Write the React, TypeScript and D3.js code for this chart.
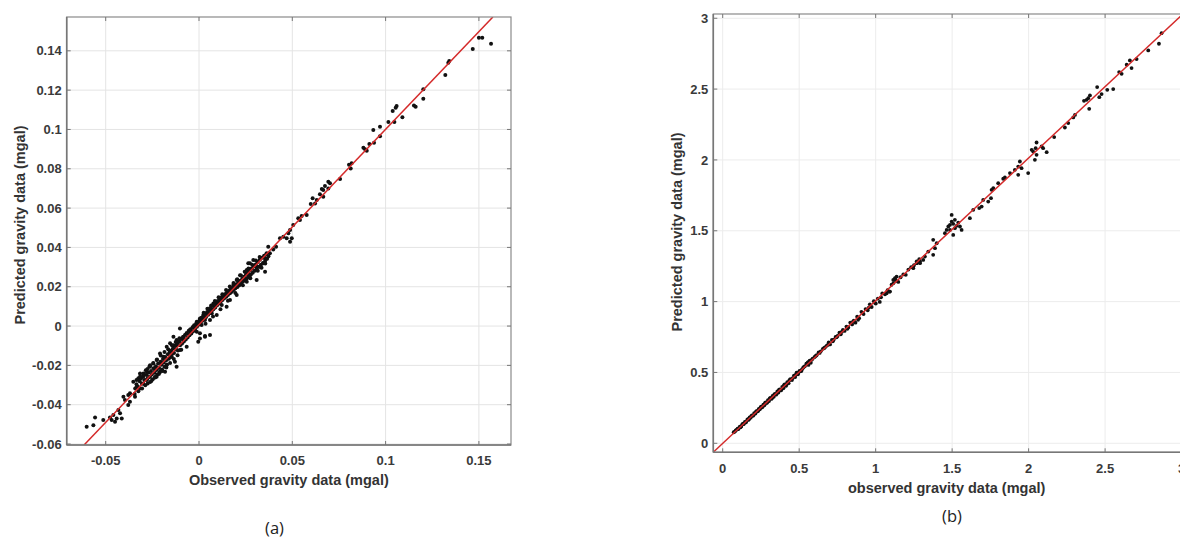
import React from "react";
import * as d3 from "d3";

// ---------- Panel (a) data ----------
const ticksAX = [-0.05, 0, 0.05, 0.1, 0.15];
const ticksAXLabels = ["-0.05", "0", "0.05", "0.1", "0.15"];
const ticksAY = [-0.06, -0.04, -0.02, 0, 0.02, 0.04, 0.06, 0.08, 0.1, 0.12, 0.14];
const ticksAYLabels = ["-0.06", "-0.04", "-0.02", "0", "0.02", "0.04", "0.06", "0.08", "0.1", "0.12", "0.14"];

// observed / predicted pairs
const pointsA: [number, number][] = [
  [0.1565, 0.1436], [0.1518, 0.1467], [0.150, 0.1467], [0.1467, 0.1409], [0.1341, 0.1348],
  [0.1336, 0.1339], [0.132, 0.1277], [0.1202, 0.1204], [0.1202, 0.1156], [0.1152, 0.1122],
  [0.1161, 0.1116], [0.109, 0.1062], [0.1059, 0.1119], [0.1054, 0.111], [0.1038, 0.1094],
  [0.1047, 0.1038], [0.1015, 0.1038], [0.097, 0.1014], [0.0934, 0.0997], [0.097, 0.0966],
  [0.0938, 0.0932], [0.0913, 0.0926], [0.0881, 0.0907], [0.089, 0.0899], [0.0899, 0.0892],
  [0.0818, 0.0828], [0.0804, 0.082], [0.0813, 0.0802], [0.0756, 0.0748], [0.0693, 0.0734],
  [0.0702, 0.0726], [0.0675, 0.0712], [0.0666, 0.0692], [0.0658, 0.0697], [0.0648, 0.0671],
  [0.0631, 0.0641], [0.0622, 0.0624], [0.0609, 0.065], [0.0599, 0.0621], [0.0666, 0.0658],
  [0.0693, 0.07], [0.0577, 0.0565], [0.055, 0.056], [0.0532, 0.0548], [0.0541, 0.0539],
  [0.0505, 0.0514], [0.0488, 0.0488], [0.0479, 0.0472], [0.0497, 0.0446], [0.047, 0.0446],
  [0.0452, 0.0454], [0.0434, 0.0446], [0.0413, 0.0403], [0.0398, 0.039], [0.0371, 0.0403],
  [0.0363, 0.037], [0.038, 0.037], [0.0354, 0.0344], [0.0345, 0.0319], [0.0264, 0.0319],
  [0.0291, 0.0336], [0.0309, 0.0302], [0.0282, 0.0293], [0.0488, 0.0429], [0.0354, 0.0276],
  [0.0273, 0.0319], [0.0256, 0.0285], [0.0327, 0.0302], [0.0309, 0.0234], [0.0273, 0.0259],
  [0.022, 0.0259], [0.0202, 0.0234], [0.0237, 0.0234], [0.0256, 0.0225], [0.0184, 0.0209],
  [0.0166, 0.0183], [0.0202, 0.0158], [0.0148, 0.0166], [0.013, 0.0149], [0.0113, 0.0141],
  [0.0166, 0.0132], [0.0095, 0.0124], [0.0077, 0.0115], [0.0122, 0.0107], [0.0148, 0.0098],
  [0.0059, 0.009], [0.0041, 0.0065], [0.0023, 0.0056], [0.0068, 0.0065], [0.0095, 0.0056],
  [0.0005, 0.0039], [0.0032, 0.0031], [-0.0012, 0.0022], [0.0014, 0.0005], [0.0059, 0.0031],
  [-0.0031, -0.0004], [-0.0048, -0.002], [-0.0012, -0.0029], [-0.0066, -0.0037], [-0.0102, -0.0012],
  [-0.0084, -0.0054], [0.0005, -0.0063], [0.0032, -0.0054], [0.0059, -0.0046], [-0.012, -0.0071],
  [-0.0155, -0.0088], [-0.0137, -0.0097], [-0.0173, -0.0105], [0.0032, -0.0051], [-0.0004, -0.008],
  [0.0005, -0.0037], [-0.0048, -0.0029], [-0.0084, -0.0071], [-0.0066, -0.0105], [-0.0102, -0.0122],
  [-0.0137, -0.0054], [-0.012, -0.0097], [-0.0146, -0.0156], [-0.012, -0.0207], [-0.0129, -0.0182],
  [-0.0191, -0.0156], [-0.0209, -0.0139], [-0.0227, -0.0173], [-0.02, -0.019], [-0.0173, -0.0198],
  [-0.0245, -0.019], [-0.0263, -0.0207], [-0.0236, -0.0224], [-0.0209, -0.0232], [-0.0182, -0.0232],
  [-0.028, -0.0232], [-0.0298, -0.0241], [-0.0263, -0.0258], [-0.0227, -0.0258], [-0.0316, -0.0241],
  [-0.0325, -0.0266], [-0.028, -0.0275], [-0.0298, -0.0292], [-0.0352, -0.0283], [-0.0334, -0.0309],
  [-0.0316, -0.0317], [-0.037, -0.0342], [-0.0405, -0.0359], [-0.0379, -0.0351], [-0.0397, -0.0376],
  [-0.0343, -0.0359], [-0.037, -0.0385], [-0.0379, -0.0402], [-0.0432, -0.0427], [-0.0459, -0.0453],
  [-0.0423, -0.0444], [-0.0441, -0.047], [-0.0468, -0.0478], [-0.0414, -0.047], [-0.0477, -0.0465],
  [-0.0513, -0.0478], [-0.0557, -0.0465], [-0.0566, -0.0504], [-0.0602, -0.0512], [-0.045, -0.0487],
  [-0.0342, -0.0318], [-0.0335, -0.0296], [-0.0327, -0.0309], [-0.0318, -0.0281], [-0.0311, -0.0267],
  [-0.0306, -0.0293], [-0.0299, -0.0258], [-0.0293, -0.0275], [-0.0288, -0.0301], [-0.0281, -0.0249],
  [-0.0277, -0.0268], [-0.0271, -0.0236], [-0.0266, -0.0259], [-0.0262, -0.0284], [-0.0257, -0.0229],
  [-0.0253, -0.0247], [-0.0248, -0.0271], [-0.0244, -0.0215], [-0.0239, -0.0238], [-0.0236, -0.0259],
  [-0.0231, -0.0204], [-0.0227, -0.0223], [-0.0224, -0.0247], [-0.0219, -0.0191], [-0.0214, -0.0213],
  [-0.0211, -0.0236], [-0.0206, -0.0182], [-0.0202, -0.0197], [-0.0198, -0.0221], [-0.0193, -0.0168],
  [-0.0189, -0.0186], [-0.0185, -0.0207], [-0.0181, -0.0157], [-0.0176, -0.0174], [-0.0172, -0.0196],
  [-0.0167, -0.0143], [-0.0162, -0.0166], [-0.0157, -0.0132], [-0.0153, -0.0158], [-0.0148, -0.0124],
  [-0.0144, -0.0141], [-0.0139, -0.0113], [-0.0134, -0.0137], [-0.0128, -0.0101], [-0.0123, -0.0119],
  [-0.0117, -0.0088], [-0.0113, -0.0124], [-0.0106, -0.0079], [-0.0101, -0.0097], [-0.0096, -0.0066],
  [-0.0091, -0.0089], [-0.0086, -0.0057], [-0.0081, -0.0078], [-0.0075, -0.0046], [-0.0071, -0.0069],
  [-0.0066, -0.0037], [-0.0061, -0.0058], [-0.0055, -0.0024], [-0.0051, -0.0047], [-0.0046, -0.0016],
  [-0.0041, -0.0038], [-0.0035, -0.0007], [-0.0031, -0.0026], [-0.0026, 0.0004], [-0.0021, -0.0015],
  [-0.0015, 0.0013], [-0.0011, -0.0004], [-0.0006, 0.0022], [-0.0002, 0.0007], [0.0004, 0.0031],
  [0.0009, 0.0016], [0.0013, 0.0042], [0.0018, 0.0027], [0.0024, 0.0051], [0.0029, 0.0036],
  [0.0034, 0.0062], [0.0038, 0.0046], [0.0044, 0.0071], [0.0049, 0.0057], [0.0053, 0.0083],
  [0.0058, 0.0066], [0.0063, 0.0091], [0.0068, 0.0077], [0.0072, 0.0103], [0.0077, 0.0086],
  [0.0083, 0.0112], [0.0087, 0.0094], [0.0092, 0.0121], [0.0097, 0.0106], [0.0101, 0.0128],
  [0.0106, 0.0115], [0.0112, 0.0137], [0.0116, 0.0124], [0.0121, 0.0146], [0.0126, 0.0133],
  [0.0131, 0.0155], [0.0135, 0.0141], [0.0141, 0.0163], [0.0146, 0.0149], [0.0151, 0.0171],
  [0.0155, 0.0158], [0.0161, 0.0178], [0.0166, 0.0167], [0.0171, 0.0187], [0.0176, 0.0174],
  [0.0181, 0.0196], [0.0186, 0.0183], [0.0191, 0.0204], [0.0195, 0.0192], [0.0201, 0.0213],
  [0.0206, 0.0199], [0.0211, 0.0222], [0.0216, 0.0208], [0.0221, 0.0231], [0.0226, 0.0217],
  [0.0232, 0.0241], [0.0236, 0.0226], [0.0242, 0.0251], [0.0247, 0.0234], [0.0252, 0.0262],
  [0.0257, 0.0243], [0.0262, 0.0271], [0.0267, 0.0253], [0.0273, 0.0283], [0.0278, 0.0262],
  [0.0283, 0.0292], [0.0288, 0.0271], [0.0294, 0.0304], [0.0299, 0.0281], [0.0304, 0.0313],
  [0.0309, 0.0291], [0.0315, 0.0326], [0.0321, 0.0302], [0.0326, 0.0337], [0.0332, 0.0312],
  [0.0338, 0.0348], [0.0343, 0.0321], [0.0349, 0.0358], [0.0355, 0.0333], [0.0361, 0.0367],
  [-0.0285, -0.0225], [-0.0265, -0.0205], [-0.0245, -0.0188], [-0.0225, -0.017], [-0.0205, -0.015],
  [-0.0185, -0.0132], [-0.0165, -0.0118], [-0.0145, -0.0098], [-0.0125, -0.0081], [-0.0105, -0.0062],
  [-0.0275, -0.0292], [-0.0255, -0.0279], [-0.0235, -0.0262], [-0.0215, -0.0244], [-0.0195, -0.0229],
  [-0.0175, -0.0211], [-0.0155, -0.0188], [-0.0135, -0.0167], [-0.0115, -0.0148], [-0.0095, -0.0121],
  [0.0025, 0.0068], [0.0045, 0.0088], [0.0065, 0.0105], [0.0085, 0.0127], [0.0105, 0.0146],
  [0.0125, 0.0162], [0.0145, 0.0183], [0.0165, 0.0201], [0.0185, 0.0219], [0.0205, 0.0238],
  [0.0225, 0.0257], [0.0245, 0.0276], [0.0265, 0.0293], [0.0285, 0.0312], [0.0305, 0.0333],
  [0.0325, 0.0351], [0.0035, 0.0012], [0.0075, 0.0049], [0.0115, 0.0086], [0.0155, 0.0129],
  [0.0195, 0.0168], [0.0235, 0.0207], [0.0275, 0.0243], [0.0315, 0.0281], [0.0335, 0.0296],
  [0.0355, 0.0318], [0.0365, 0.0342], [0.0372, 0.0355], [-0.0335, -0.0275], [-0.0315, -0.0255],
  [-0.0345, -0.0345], [-0.0325, -0.0331], [-0.0305, -0.0318], [-0.0295, -0.0245], [-0.0276, -0.0218],
  [-0.0262, -0.0199],
];
const fitLineA: [number, number][] = [[-0.0616, -0.0605], [0.1575, 0.1572]];

// ---------- Panel (b) data ----------
const ticksBX = [0, 0.5, 1, 1.5, 2, 2.5, 3];
const ticksBXLabels = ["0", "0.5", "1", "1.5", "2", "2.5", "3"];
const ticksBY = [0, 0.5, 1, 1.5, 2, 2.5, 3];
const ticksBYLabels = ["0", "0.5", "1", "1.5", "2", "2.5", "3"];

const pointsB: [number, number][] = [
  [2.869, 2.895], [2.852, 2.82], [2.782, 2.773], [2.706, 2.712], [2.662, 2.702], [2.673, 2.648],
  [2.641, 2.672], [2.608, 2.608], [2.592, 2.62], [2.553, 2.5], [2.514, 2.495], [2.477, 2.465],
  [2.448, 2.514], [2.462, 2.443], [2.401, 2.455], [2.396, 2.361], [2.39, 2.436], [2.379, 2.424],
  [2.362, 2.417], [2.303, 2.318], [2.292, 2.3], [2.259, 2.26], [2.237, 2.229], [2.167, 2.161],
  [2.118, 2.055], [2.095, 2.083], [2.085, 2.095], [2.052, 2.123], [2.046, 2.083], [2.052, 2.036],
  [2.03, 2.059], [2.041, 2.001], [2.02, 2.071], [1.997, 1.907], [1.943, 1.989], [1.932, 1.953],
  [1.954, 1.942], [1.932, 1.895], [1.91, 1.93], [1.878, 1.907], [1.845, 1.876], [1.834, 1.867],
  [1.801, 1.836], [1.758, 1.789], [1.769, 1.801], [1.754, 1.73], [1.736, 1.706], [1.703, 1.718],
  [1.693, 1.671], [1.677, 1.66], [1.638, 1.648], [1.616, 1.589], [1.497, 1.612], [1.486, 1.542],
  [1.475, 1.53], [1.507, 1.549], [1.518, 1.518], [1.529, 1.535], [1.54, 1.558], [1.551, 1.53],
  [1.562, 1.506], [1.507, 1.471], [1.486, 1.506], [1.497, 1.565], [1.518, 1.577], [1.464, 1.506],
  [1.453, 1.483], [1.399, 1.412], [1.376, 1.436], [1.388, 1.377], [1.344, 1.353], [1.322, 1.318],
  [1.311, 1.294], [1.29, 1.271], [1.268, 1.283], [1.246, 1.247], [1.376, 1.33], [1.268, 1.271],
  [1.246, 1.236], [1.29, 1.283], [1.137, 1.177], [1.115, 1.153], [1.093, 1.071], [1.072, 1.059],
  [1.126, 1.165],
  [0.072, 0.078], [0.085, 0.091], [0.094, 0.098], [0.103, 0.101], [0.112, 0.118], [0.121, 0.119],
  [0.128, 0.134], [0.137, 0.135], [0.145, 0.151], [0.152, 0.149], [0.161, 0.166], [0.168, 0.165],
  [0.176, 0.182], [0.183, 0.181], [0.191, 0.197], [0.198, 0.194], [0.206, 0.213], [0.214, 0.21],
  [0.221, 0.227], [0.229, 0.226], [0.236, 0.243], [0.243, 0.24], [0.251, 0.258], [0.258, 0.254],
  [0.266, 0.273], [0.273, 0.269], [0.281, 0.289], [0.288, 0.284], [0.296, 0.305], [0.303, 0.298],
  [0.311, 0.321], [0.318, 0.313], [0.326, 0.334], [0.334, 0.328], [0.341, 0.349], [0.349, 0.343],
  [0.357, 0.366], [0.364, 0.358], [0.372, 0.381], [0.381, 0.373], [0.389, 0.398], [0.397, 0.389],
  [0.405, 0.416], [0.413, 0.405], [0.422, 0.431], [0.431, 0.424], [0.442, 0.452], [0.453, 0.446],
  [0.466, 0.478], [0.474, 0.468], [0.483, 0.498], [0.492, 0.487], [0.502, 0.511], [0.513, 0.509],
  [0.526, 0.534], [0.538, 0.545], [0.547, 0.562], [0.556, 0.571], [0.561, 0.553], [0.569, 0.583],
  [0.576, 0.568], [0.588, 0.597], [0.601, 0.609], [0.614, 0.622], [0.627, 0.641], [0.641, 0.649],
  [0.655, 0.667], [0.668, 0.676], [0.679, 0.688], [0.693, 0.712], [0.702, 0.698], [0.714, 0.729],
  [0.726, 0.732], [0.738, 0.751], [0.751, 0.758], [0.763, 0.781], [0.772, 0.769], [0.786, 0.801],
  [0.797, 0.793], [0.809, 0.824], [0.821, 0.818], [0.834, 0.852], [0.846, 0.839], [0.857, 0.866],
  [0.868, 0.851], [0.879, 0.893], [0.892, 0.883], [0.907, 0.928], [0.921, 0.912], [0.934, 0.947],
  [0.948, 0.939], [0.962, 0.981], [0.974, 0.962], [0.988, 1.003], [1.001, 0.986], [1.014, 1.021],
  [1.027, 0.998], [1.043, 1.058], [1.061, 1.052], [1.078, 1.081], [1.092, 1.071], [1.104, 1.119],
  [1.117, 1.131], [1.126, 1.159], [1.134, 1.146], [1.148, 1.139], [1.163, 1.172], [1.181, 1.192],
  [1.197, 1.189], [1.214, 1.226], [1.232, 1.243], [1.251, 1.258], [1.268, 1.271], [1.285, 1.299],
  [0.08, 0.083], [0.098, 0.104], [0.117, 0.113], [0.133, 0.139], [0.149, 0.146], [0.165, 0.171],
  [0.172, 0.17], [0.187, 0.192], [0.202, 0.199], [0.218, 0.223], [0.232, 0.23], [0.247, 0.253],
  [0.262, 0.259], [0.277, 0.285], [0.292, 0.29], [0.307, 0.315], [0.322, 0.318], [0.337, 0.344],
  [0.353, 0.349], [0.368, 0.377], [0.385, 0.379], [0.401, 0.41], [0.417, 0.412], [0.436, 0.445],
  [0.458, 0.46], [0.478, 0.485], [0.497, 0.501], [0.518, 0.521], [0.531, 0.54], [0.551, 0.558],
  [0.565, 0.578], [0.582, 0.589], [0.608, 0.616], [0.634, 0.638], [0.662, 0.671], [0.687, 0.694],
  [0.72, 0.72], [0.745, 0.748], [0.778, 0.786], [0.815, 0.808], [0.852, 0.858], [0.885, 0.872],
  [0.915, 0.921], [0.955, 0.958], [0.995, 0.992], [1.035, 1.03],
];
const fitLineB: [number, number][] = [[-0.065, -0.066], [3.07, 3.091]];

type PanelProps = {
  id: string;
  xDomain: [number, number];
  xRange: [number, number];
  yDomain: [number, number];
  yRange: [number, number];
  xTicks: number[];
  xTickLabels: string[];
  yTicks: number[];
  yTickLabels: string[];
  points: [number, number][];
  line: [number, number][];
  xLabel: string;
  yLabel: string;
  xLabelY: number;
  yLabelX: number;
  yLabelCY: number;
  caption: string;
  captionX: number;
  captionY: number;
  xTickLabelDy: number;
  gridColor: string;
  dotR: number;
};

function Panel(p: PanelProps) {
  const x = d3.scaleLinear().domain(p.xDomain).range(p.xRange);
  const y = d3.scaleLinear().domain(p.yDomain).range(p.yRange);
  const [x0, x1] = p.xRange;
  const [y0, y1] = p.yRange; // y0 bottom, y1 top
  const axisColor = "#8a8a8a";
  const tickLen = 4;
  const lineGen = d3
    .line<[number, number]>()
    .x((d) => x(d[0]))
    .y((d) => y(d[1]));
  const font = "'Liberation Sans', Arial, Helvetica, sans-serif";
  return (
    <g>
      <defs>
        <clipPath id={p.id}>
          <rect x={x0} y={y1} width={x1 - x0} height={y0 - y1} />
        </clipPath>
      </defs>
      <rect x={x0} y={y1} width={x1 - x0} height={y0 - y1} fill="#fff" />
      {p.xTicks.map((t) => (
        <line key={"gx" + t} x1={x(t)} x2={x(t)} y1={y0} y2={y1} stroke={p.gridColor} strokeWidth={1} />
      ))}
      {p.yTicks.map((t) => (
        <line key={"gy" + t} x1={x0} x2={x1} y1={y(t)} y2={y(t)} stroke={p.gridColor} strokeWidth={1} />
      ))}
      <g clipPath={`url(#${p.id})`}>
        {p.points.map((d, i) => (
          <circle key={i} cx={x(d[0])} cy={y(d[1])} r={p.dotR} fill="#111" />
        ))}
        <path d={lineGen(p.line) || ""} stroke="#d42a2a" strokeWidth={1.5} fill="none" />
      </g>
      <rect x={x0} y={y1} width={x1 - x0} height={y0 - y1} fill="none" stroke={axisColor} strokeWidth={1.2} />
      <line x1={x0} x2={x1} y1={y0} y2={y0} stroke="#777" strokeWidth={1.6} />
      <line x1={x0} x2={x0} y1={y0} y2={y1} stroke="#777" strokeWidth={1.6} />
      {p.xTicks.map((t) => (
        <g key={"tx" + t}>
          <line x1={x(t)} x2={x(t)} y1={y0} y2={y0 - tickLen} stroke="#777" strokeWidth={1} />
          <line x1={x(t)} x2={x(t)} y1={y1} y2={y1 + tickLen} stroke="#777" strokeWidth={1} />
        </g>
      ))}
      {p.yTicks.map((t) => (
        <g key={"ty" + t}>
          <line x1={x0} x2={x0 + tickLen} y1={y(t)} y2={y(t)} stroke="#777" strokeWidth={1} />
          <line x1={x1} x2={x1 - tickLen} y1={y(t)} y2={y(t)} stroke="#777" strokeWidth={1} />
        </g>
      ))}
      {p.xTicks.map((t, i) => (
        <text
          key={"lx" + t}
          x={x(t)}
          y={y0 + p.xTickLabelDy}
          textAnchor="middle"
          fontFamily={font}
          fontWeight="bold"
          fontSize={13}
          fill="#3a3a3a"
        >
          {p.xTickLabels[i]}
        </text>
      ))}
      {p.yTicks.map((t, i) => (
        <text
          key={"ly" + t}
          x={x0 - 5}
          y={y(t)}
          dy="0.36em"
          textAnchor="end"
          fontFamily={font}
          fontWeight="bold"
          fontSize={13}
          fill="#3a3a3a"
        >
          {p.yTickLabels[i]}
        </text>
      ))}
      <text
        x={(x0 + Math.min(x1, 1180)) / 2}
        y={p.xLabelY}
        textAnchor="middle"
        fontFamily={font}
        fontWeight="bold"
        fontSize={14.5}
        fill="#333"
      >
        {p.xLabel}
      </text>
      <text
        transform={`translate(${p.yLabelX},${p.yLabelCY}) rotate(-90)`}
        textAnchor="middle"
        fontFamily={font}
        fontWeight="bold"
        fontSize={14.5}
        fill="#333"
      >
        {p.yLabel}
      </text>
      <text
        x={p.captionX}
        y={p.captionY}
        textAnchor="middle"
        fontFamily="'Open Sans', 'Noto Sans', sans-serif"
        fontSize={16.5}
        fill="#222"
      >
        {p.caption}
      </text>
    </g>
  );
}

export default function App() {
  return (
    <svg
      width={1180}
      height={538}
      style={{ position: "absolute", left: 0, top: 0, background: "#fff" }}
    >
      <rect x={0} y={0} width={1180} height={538} fill="#fff" />
      <Panel
        id="clipA"
        xDomain={[-0.0709, 0.1672]}
        xRange={[66.7, 511]}
        yDomain={[-0.0605, 0.1572]}
        yRange={[445, 17]}
        xTicks={ticksAX}
        xTickLabels={ticksAXLabels}
        yTicks={ticksAY}
        yTickLabels={ticksAYLabels}
        points={pointsA}
        line={fitLineA}
        xLabel="Observed gravity data (mgal)"
        yLabel="Predicted gravity data (mgal)"
        xLabelY={485}
        yLabelX={25}
        yLabelCY={225}
        caption="(a)"
        captionX={274.5}
        captionY={534}
        xTickLabelDy={20}
        gridColor="#e4e4e4"
        dotR={2}
      />
      <Panel
        id="clipB"
        xDomain={[-0.0614, 3.055]}
        xRange={[713.3, 1190]}
        yDomain={[-0.0636, 3.03]}
        yRange={[452.3, 14]}
        xTicks={ticksBX}
        xTickLabels={ticksBXLabels}
        yTicks={ticksBY}
        yTickLabels={ticksBYLabels}
        points={pointsB}
        line={fitLineB}
        xLabel="observed gravity data (mgal)"
        yLabel="Predicted gravity data (mgal)"
        xLabelY={493}
        yLabelX={682}
        yLabelCY={232}
        caption="(b)"
        captionX={952}
        captionY={522}
        xTickLabelDy={21}
        gridColor="#ececec"
        dotR={1.9}
      />
    </svg>
  );
}
